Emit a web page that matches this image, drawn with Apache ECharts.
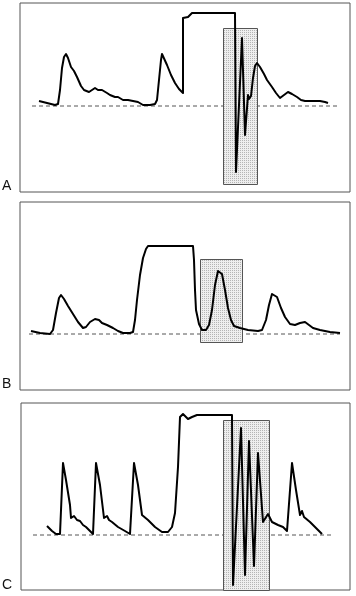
<!DOCTYPE html>
<html><head><meta charset="utf-8">
<script src="https://cdn.jsdelivr.net/npm/echarts@6/dist/echarts.min.js"></script>
<style>html,body{margin:0;padding:0;background:#fff}#c{width:356px;height:596px}</style>
</head><body><div id="c"></div>
<script>
// Panel labels
const panelLabels = ['A', 'B', 'C'];
// Waveforms: [time, amplitude above baseline]
const waveA = [[19,5],[27,3],[35,1],[38,2],[40,16],[42,38],[44,49],[46,52],[48,48],[51,39],[54,35],[57,29],[59,28],[61,20],[64,16],[66,14],[69,14],[72,16],[75,18],[78,16],[82,16],[87,13],[90,11],[95,9],[98,9],[103,6],[108,6],[113,5],[115,6],[118,4],[123,1],[130,1],[135,2],[137,6],[139,26],[141,46],[142,52],[144,50],[147,41],[151,31],[155,23],[159,17],[163,13],[163,88],[168,89],[170,90],[172,93],[215,93],[216,-66],[222,68],[225,-29],[228,11],[229,7],[231,10],[233,28],[235,40],[237,43],[240,39],[244,32],[247,26],[252,19],[256,13],[260,8],[264,11],[268,14],[272,12],[277,9],[281,6],[285,5],[293,5],[300,5],[305,4],[308,3]];
const waveB = [[11,3],[20,1],[30,0],[33,4],[36,21],[39,36],[41,39],[44,35],[48,28],[53,20],[58,12],[63,6],[66,7],[70,12],[75,15],[79,14],[82,11],[87,9],[93,6],[98,3],[103,1],[110,1],[113,2],[115,14],[117,34],[120,59],[123,76],[126,85],[128,88],[173,88],[174,74],[175,44],[176,24],[179,10],[182,4],[186,4],[189,9],[192,24],[195,49],[198,63],[200,64],[202,60],[205,44],[208,26],[211,14],[214,8],[220,6],[228,4],[238,3],[242,4],[246,14],[249,29],[252,40],[254,42],[257,37],[261,26],[265,17],[270,10],[275,9],[280,11],[285,12],[289,9],[293,6],[300,4],[310,2],[320,1]];
const waveC = [[26,9],[31,4],[35,1],[39,1],[42,72],[45,55],[49,30],[50,17],[53,19],[56,15],[59,14],[62,10],[65,8],[69,4],[72,1],[75,72],[79,50],[83,17],[86,19],[88,15],[91,13],[97,8],[104,4],[109,1],[113,72],[117,50],[121,20],[123,18],[127,15],[134,8],[141,3],[147,3],[151,8],[154,22],[157,68],[159,118],[162,121],[164,119],[167,116],[171,118],[176,120],[211,120],[212,-50],[220,107],[224,-40],[228,94],[233,-31],[237,82],[242,13],[247,21],[251,13],[257,10],[262,8],[266,4],[271,72],[275,45],[279,20],[281,24],[283,18],[289,13],[296,6],[301,1]];
// Highlight boxes: [xStart, xEnd, yBottom, yTop]
const boxA = [203, 237, -78, 78];
const boxB = [180, 222, -8, 75];
const boxC = [202, 248, -55, 115];
// Baselines: [xStart, xEnd]
const baseA = [12, 317];
const baseB = [9, 320];
const baseC = [12, 312];
// Axis ranges: [xMax, yMin, yMax]
const rangeA = [330, -86, 103];
const rangeB = [330, -56, 132];
const rangeC = [329, -55, 132];

const pc = document.createElement('canvas');
pc.width = 2; pc.height = 2;
const g = pc.getContext('2d');
g.fillStyle = '#eeeeee'; g.fillRect(0,0,2,2);
g.fillStyle = '#b4b4b4'; g.fillRect(0,0,1,1);
const pattern = {image: pc, repeat: 'repeat'};

const grids = [
  {left:20, top:3, width:330, height:189},
  {left:20, top:202, width:330, height:188},
  {left:21, top:403, width:329, height:187}
];
const ranges = [rangeA, rangeB, rangeC];
const waves = [waveA, waveB, waveC];
const boxes = [boxA, boxB, boxC];
const bases = [baseA, baseB, baseC];

const option = {
  animation: false,
  backgroundColor: '#fff',
  grid: grids.map(gr => Object.assign({show:true, borderColor:'#555', borderWidth:1, backgroundColor:'transparent'}, gr)),
  xAxis: ranges.map((r,i) => ({type:'value', gridIndex:i, min:0, max:r[0], show:false})),
  yAxis: ranges.map((r,i) => ({type:'value', gridIndex:i, min:r[1], max:r[2], show:false})),
  series: [],
  graphic: panelLabels.map((t,i) => ({type:'text', left:2, top:[179,377,578][i], style:{text:t, font:'14px "Liberation Sans", Arial', fill:'#111'}}))
};
for (let i = 0; i < 3; i++) {
  option.series.push({
    type:'line', xAxisIndex:i, yAxisIndex:i, z:1, showSymbol:false, silent:true,
    data:[[bases[i][0],0],[bases[i][1],0]],
    lineStyle:{color:'#555', width:1, type:[4,3]}
  });
  option.series.push({
    type:'custom', xAxisIndex:i, yAxisIndex:i, z:2, silent:true,
    data:[boxes[i]],
    encode:{x:[0,1], y:[2,3]},
    renderItem: (params, api) => {
      const p0 = api.coord([api.value(0), api.value(3)]);
      const p1 = api.coord([api.value(1), api.value(2)]);
      return {type:'rect', shape:{x:Math.round(p0[0])+0.5, y:Math.round(p0[1])+0.5, width:Math.round(p1[0]-p0[0]), height:Math.round(p1[1]-p0[1])},
        style:{fill:pattern, stroke:'#555', lineWidth:1}};
    }
  });
  option.series.push({
    type:'line', xAxisIndex:i, yAxisIndex:i, z:3, showSymbol:false, silent:true,
    data: waves[i],
    lineStyle:{color:'#000', width:2, join:'round'}
  });
}
const chart = echarts.init(document.getElementById('c'), null, {renderer:'canvas'});
chart.setOption(option);
</script></body></html>
